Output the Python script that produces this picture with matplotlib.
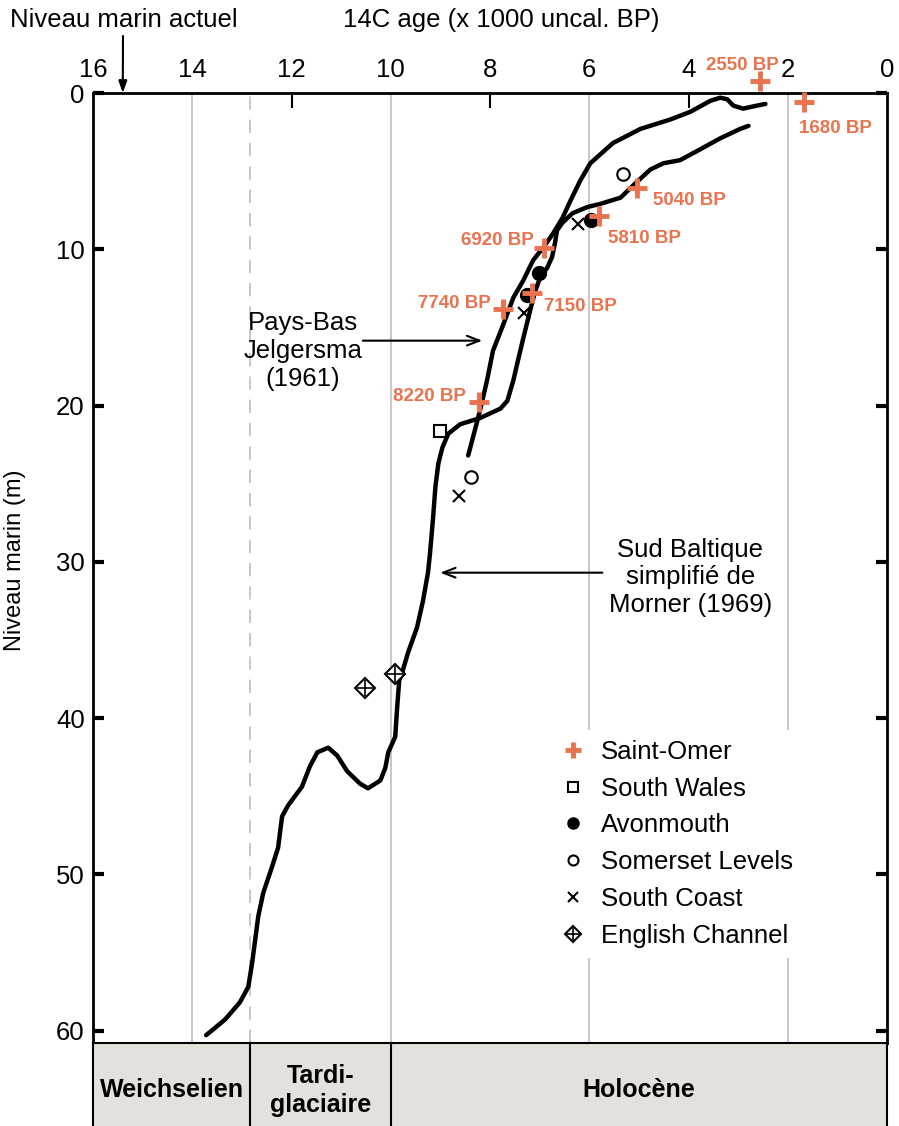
import numpy as np
import matplotlib
matplotlib.use('Agg')
import matplotlib.pyplot as plt
from matplotlib.legend_handler import HandlerTuple

plt.rcParams['font.family'] = ['Liberation Sans', 'DejaVu Sans']

# Sud Baltique, simplified from Morner (1969): age (ka BP), depth (m)
morner_age = [13.72, 13.34, 13.04, 12.87, 12.79, 12.67, 12.57, 12.39, 12.27, 12.19,
              12.07, 11.79, 11.63, 11.48, 11.26, 11.08, 10.88, 10.62, 10.46, 10.21,
              10.11, 10.05, 9.91, 9.87, 9.83, 9.77, 9.65, 9.47, 9.35, 9.25,
              9.21, 9.15, 9.10, 9.04, 8.96, 8.84, 8.60, 8.20, 7.79, 7.65,
              7.53, 7.45, 7.33, 7.19, 7.09, 6.99, 6.85, 6.75, 6.69, 6.65,
              6.54, 6.34, 6.04, 5.78, 5.37, 5.11, 4.77, 4.51, 4.17, 3.82,
              3.36, 2.96, 2.79]
morner_depth = [60.3, 59.3, 58.2, 57.2, 55.6, 52.7, 51.2, 49.5, 48.3, 46.3,
                45.6, 44.4, 43.1, 42.2, 41.9, 42.4, 43.4, 44.2, 44.5, 44.0,
                43.2, 42.2, 41.2, 39.3, 37.6, 37.1, 35.8, 34.2, 32.5, 30.7,
                29.5, 27.3, 25.2, 23.7, 22.7, 21.8, 21.2, 20.8, 20.2, 19.7,
                18.4, 17.3, 15.7, 13.9, 12.7, 11.8, 11.2, 10.5, 9.6, 8.8,
                8.3, 7.7, 7.3, 7.1, 6.7, 5.9, 4.9, 4.5, 4.3, 3.7,
                2.9, 2.3, 2.1]

# Pays-Bas, Jelgersma (1961)
jelg_age = [8.44, 8.34, 8.20, 8.06, 7.94, 7.73, 7.53, 7.33, 7.13, 6.93,
            6.73, 6.54, 6.38, 6.18, 5.98, 5.52, 4.97, 4.37, 3.96, 3.56,
            3.36, 3.22, 3.10, 2.90, 2.61, 2.45]
jelg_depth = [23.2, 22.0, 20.3, 18.4, 16.5, 14.8, 13.1, 12.0, 10.7, 9.9,
              9.0, 8.0, 6.9, 5.6, 4.5, 3.2, 2.3, 1.7, 1.2, 0.5,
              0.3, 0.4, 0.8, 1.0, 0.8, 0.7]

# Saint-Omer dates
so_age = [2.55, 1.68, 5.04, 5.81, 6.92, 7.15, 7.74, 8.22]
so_depth = [-0.8, 0.6, 6.1, 7.9, 9.9, 12.8, 13.8, 19.8]

wales_age, wales_depth = [9.01], [21.6]
avon_age, avon_depth = [5.96, 7.01, 7.25], [8.1, 11.5, 12.9]
somerset_age, somerset_depth = [5.32, 8.38], [5.2, 24.6]
coast_age, coast_depth = [6.23, 7.31, 8.62], [8.4, 14.1, 25.8]
channel_age, channel_depth = [10.52, 9.91], [38.1, 37.2]

periods = ['Weichselien', 'Tardi-\nglaciaire', 'Holocène']
period_bounds = [16, 12.83, 10, 0]

orange = '#e9734e'
grid_c = '#c4bcb8'
fs = 18.5

W, H = 899, 1126
fig = plt.figure(figsize=(W / 100, H / 100), dpi=100)
ax = fig.add_axes([93 / W, 1 - 1043 / H, 794 / W, 950 / H])
ax.set_xlim(16, 0)
ax.set_ylim(60.8, 0)

for a in [14, 10, 6, 2]:
    ax.axvline(a, color=grid_c, lw=1.2, zorder=0)
ax.axvline(period_bounds[1], color=grid_c, lw=1.2, dashes=(8, 6), zorder=0)

ax.plot(morner_age, morner_depth, color='k', lw=3.2, solid_joinstyle='round',
        solid_capstyle='round', zorder=3)
ax.plot(jelg_age, jelg_depth, color='k', lw=3.2, solid_joinstyle='round',
        solid_capstyle='round', zorder=3)

h_so, = ax.plot(so_age, so_depth, '+', color=orange, ms=15, mew=3.5,
                clip_on=False, zorder=5)
h_wa, = ax.plot(wales_age, wales_depth, 's', mfc='white', mec='k', ms=9,
                mew=1.5, zorder=4)
h_av, = ax.plot(avon_age, avon_depth, 'o', color='k', ms=10, zorder=4)
h_sm, = ax.plot(somerset_age, somerset_depth, 'o', mfc='white', mec='k',
                ms=9, mew=1.5, zorder=4)
h_co, = ax.plot(coast_age, coast_depth, 'x', color='k', ms=9, mew=1.5,
                zorder=4)
h_ch1, = ax.plot(channel_age, channel_depth, 'D', mfc='white', mec='k',
                 ms=10, mew=1.5, zorder=4)
h_ch2, = ax.plot(channel_age, channel_depth, '+', color='k', ms=12, mew=1.2,
                 zorder=4)

label_offsets = [(-13, 11), (23, -19), (38, -9), (33, -16),
                 (-33, 5), (35, -10), (-35, 4), (-36, 4)]
for a, d, off in zip(so_age, so_depth, label_offsets):
    ax.annotate(f'{round(a * 1000)} BP', (a, d), xytext=off,
                textcoords='offset points', ha='center', va='center',
                color=orange, fontsize=13.5, fontweight='bold',
                annotation_clip=False, zorder=6)

ax.annotate('', xy=(8.10, 15.85), xytext=(10.62, 15.85),
            arrowprops=dict(arrowstyle='->,head_length=0.9,head_width=0.35',
                            color='k', lw=1.5))
ax.text(11.77, 16.5, 'Pays-Bas\nJelgersma\n(1961)', ha='center', va='center',
        fontsize=fs, linespacing=1.2)

ax.annotate('', xy=(9.06, 30.7), xytext=(5.68, 30.7),
            arrowprops=dict(arrowstyle='->,head_length=0.9,head_width=0.35',
                            color='k', lw=1.5))
ax.text(3.96, 31.0, 'Sud Baltique\nsimplifié de\nMorner (1969)', ha='center',
        va='center', fontsize=fs, linespacing=1.2, zorder=2,
        bbox=dict(fc='white', ec='none', pad=10))

leg = ax.legend([h_so, h_wa, h_av, h_sm, h_co, (h_ch1, h_ch2)],
                ['Saint-Omer', 'South Wales', 'Avonmouth', 'Somerset Levels',
                 'South Coast', 'English Channel'],
                handler_map={tuple: HandlerTuple(ndivide=1)},
                loc='upper left', bbox_to_anchor=(0.575, 0.33), fontsize=fs,
                frameon=True, framealpha=1, edgecolor='none', facecolor='white',
                handlelength=1.0, handletextpad=0.6, labelspacing=0.5,
                markerscale=0.8, borderaxespad=0)
leg.set_zorder(2)

# axes and ticks
ax.xaxis.tick_top()
ax.xaxis.remove_overlapping_locs = False
ax.set_xticks(range(0, 17, 2))
ax.set_xticklabels([str(v) for v in range(0, 17, 2)])
ax.set_xticks([4, 8, 12], minor=True)
ax.tick_params(axis='x', which='major', length=0, pad=8, labelsize=fs)
ax.tick_params(axis='x', which='minor', top=True, bottom=False,
               labeltop=False, direction='in', length=11, width=1.5)
ax.set_yticks(range(0, 61, 10))
ax.tick_params(axis='y', which='major', left=True, right=True,
               direction='in', length=8, width=3, labelsize=fs, pad=6)
for s in ax.spines.values():
    s.set_linewidth(2)

fig.text(501 / W, 1 - 20 / H, '14C age (x 1000 uncal. BP)', ha='center',
         va='center', fontsize=fs)
fig.text(15 / W, 1 - 560 / H, 'Niveau marin (m)', rotation=90, ha='center',
         va='center', fontsize=17)
fig.text(10 / W, 1 - 20 / H, 'Niveau marin actuel', ha='left', va='center',
         fontsize=fs)
ax.annotate('', xy=(15.4, 0), xytext=(123, H - 36), textcoords='figure pixels',
            xycoords='data', annotation_clip=False,
            arrowprops=dict(arrowstyle='-|>,head_length=0.7,head_width=0.25',
                            color='k', lw=1.5, shrinkA=0, shrinkB=0))

# period band
bax = fig.add_axes([93 / W, 0, 794 / W, 83 / H])
bax.set_xlim(16, 0)
bax.set_ylim(0, 1)
bax.set_facecolor('#e4e0dc')
bax.set_xticks([])
bax.set_yticks([])
for k in ['left', 'right', 'top']:
    bax.spines[k].set_linewidth(1.5)
bax.spines['bottom'].set_visible(False)
for b in period_bounds[1:-1]:
    bax.axvline(b, color='k', lw=1.5)
for name, lo, hi in zip(periods, period_bounds[:-1], period_bounds[1:]):
    bax.text((lo + hi) / 2, 0.43, name, ha='center', va='center',
             fontsize=18, fontweight='bold', linespacing=1.25,
             family=['Liberation Sans Narrow', 'Liberation Sans'])

fig.savefig('out.png', dpi=100)
